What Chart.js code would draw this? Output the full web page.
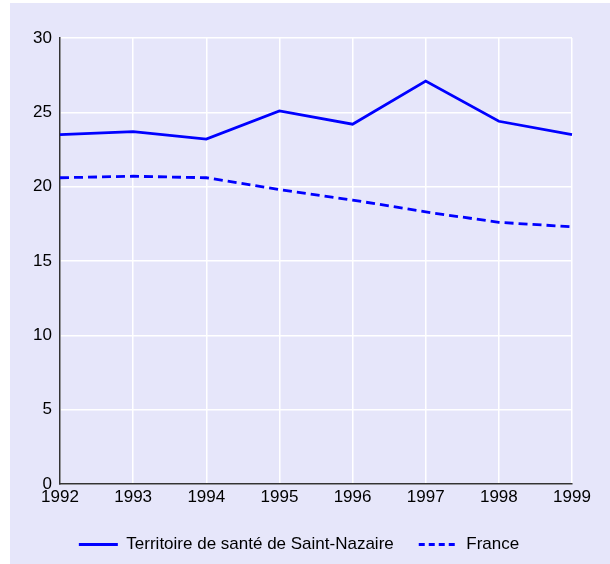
<!DOCTYPE html>
<html>
<head>
<meta charset="utf-8">
<script src="https://cdn.jsdelivr.net/npm/chart.js@4/dist/chart.umd.min.js"></script>
<style>
html,body{margin:0;padding:0;background:#fff;}
#wrap{position:absolute;left:0;top:0;width:610px;height:564px;}
</style>
</head>
<body>
<div id="wrap"><canvas id="c" width="610" height="564"></canvas></div>
<script>
const years = ['1992','1993','1994','1995','1996','1997','1998','1999'];
const saintNazaire = [23.5, 23.7, 23.2, 25.1, 24.2, 27.1, 24.4, 23.5];
const france = [20.6, 20.7, 20.6, 19.8, 19.1, 18.3, 17.6, 17.3];
const seriesNames = ['Territoire de santé de Saint-Nazaire', 'France'];

const FONT = '"Liberation Sans", Arial, Helvetica, sans-serif';
Chart.defaults.font.family = FONT;
Chart.defaults.font.size = 17;
Chart.defaults.color = '#000';

const bgPlugin = {
  id: 'bg',
  beforeDraw(chart) {
    const ctx = chart.ctx;
    ctx.save();
    ctx.fillStyle = '#E6E6FA';
    ctx.fillRect(10, 3, 600, 561);
    ctx.restore();
  },
  afterLayout(chart) {
    if (chart.legend) {
      chart.legend.left += 8;
      chart.legend.right += 8;
    }
  }
};

new Chart(document.getElementById('c'), {
  type: 'line',
  data: {
    labels: years,
    datasets: [
      { label: seriesNames[0], data: saintNazaire, borderColor: '#0000FF', backgroundColor: '#0000FF',
        borderWidth: 2.8, pointRadius: 0, tension: 0, fill: false },
      { label: seriesNames[1], data: france, borderColor: '#0000FF', backgroundColor: '#0000FF',
        borderWidth: 2.8, borderDash: [9, 5], pointRadius: 0, tension: 0, fill: false }
    ]
  },
  options: {
    responsive: false,
    animation: false,
    devicePixelRatio: 1,
    layout: { padding: { left: 10, top: 38, right: 38, bottom: 1 } },
    plugins: {
      title: { display: false },
      tooltip: { enabled: false },
      legend: {
        position: 'bottom',
        labels: {
          usePointStyle: true,
          pointStyle: 'line',
          pointStyleWidth: 39,
          padding: 25,
          font: { size: 17 },
          color: '#000',
          generateLabels(chart) {
            const items = Chart.defaults.plugins.legend.labels.generateLabels(chart);
            items.forEach((it, i) => {
              it.pointStyle = 'line';
              it.lineWidth = 2.8;
              it.strokeStyle = '#0000FF';
              it.lineDash = i === 1 ? [6, 4] : [];
            });
            return items;
          }
        }
      }
    },
    scales: {
      x: {
        grid: { color: '#FFFFFF', lineWidth: 1.5, drawTicks: false },
        border: { display: true, color: '#333333', width: 1.5 },
        ticks: { padding: 3, maxRotation: 0, autoSkip: false, font: { size: 17 } },
        afterFit(s) { s.height = 27; }
      },
      y: {
        min: 0, max: 30,
        grid: { color: '#FFFFFF', lineWidth: 1.5, drawTicks: false },
        border: { display: true, color: '#333333', width: 1.5 },
        ticks: { stepSize: 5, padding: 8, font: { size: 17 } },
        afterFit(s) { s.width = 50; }
      }
    }
  },
  plugins: [bgPlugin]
});
</script>
</body>
</html>
